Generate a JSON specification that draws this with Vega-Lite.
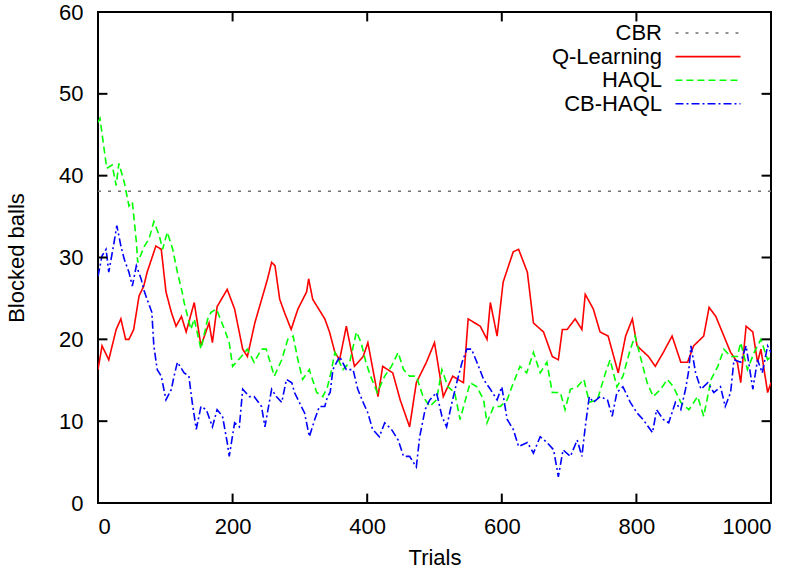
{
  "$schema": "https://vega.github.io/schema/vega-lite/v6.json",
  "width": 673,
  "height": 491,
  "autosize": {"type": "none"},
  "padding": {"left": 98, "top": 12, "right": 34, "bottom": 74},
  "background": "white",
  "config": {
    "view": {"stroke": "black", "strokeWidth": 2},
    "font": "Liberation Sans",
    "axis": {
      "grid": false,
      "domain": false,
      "ticks": false,
      "labelColor": "black",
      "titleColor": "black",
      "labelFont": "Liberation Sans",
      "titleFont": "Liberation Sans",
      "labelFontSize": 22,
      "titleFontSize": 22,
      "titleFontWeight": "normal"
    }
  },
  "datasets": {
    "xticks": [{"trial": 0}, {"trial": 200}, {"trial": 400}, {"trial": 600}, {"trial": 800}, {"trial": 1000}],
    "yticks": [{"value": 0}, {"value": 10}, {"value": 20}, {"value": 30}, {"value": 40}, {"value": 50}, {"value": 60}]
  },
  "data": {
    "values": [
      {"series": "CBR", "trial": 0, "value": 38.1},
      {"series": "CBR", "trial": 1000, "value": 38.1},
      {"series": "Q-Learning", "trial": 0, "value": 16.3},
      {"series": "Q-Learning", "trial": 6, "value": 19.2},
      {"series": "Q-Learning", "trial": 16, "value": 17.5},
      {"series": "Q-Learning", "trial": 27, "value": 21.2},
      {"series": "Q-Learning", "trial": 34, "value": 22.5},
      {"series": "Q-Learning", "trial": 41, "value": 20},
      {"series": "Q-Learning", "trial": 46, "value": 20},
      {"series": "Q-Learning", "trial": 53, "value": 21.2},
      {"series": "Q-Learning", "trial": 61, "value": 25.3},
      {"series": "Q-Learning", "trial": 68, "value": 26.5},
      {"series": "Q-Learning", "trial": 73, "value": 28.2},
      {"series": "Q-Learning", "trial": 86, "value": 31.4},
      {"series": "Q-Learning", "trial": 94, "value": 31},
      {"series": "Q-Learning", "trial": 101, "value": 25.8},
      {"series": "Q-Learning", "trial": 109, "value": 23.3},
      {"series": "Q-Learning", "trial": 116, "value": 21.6},
      {"series": "Q-Learning", "trial": 124, "value": 22.8},
      {"series": "Q-Learning", "trial": 131, "value": 20.9},
      {"series": "Q-Learning", "trial": 143, "value": 24.5},
      {"series": "Q-Learning", "trial": 153, "value": 19.2},
      {"series": "Q-Learning", "trial": 165, "value": 22},
      {"series": "Q-Learning", "trial": 170, "value": 19.6},
      {"series": "Q-Learning", "trial": 177, "value": 24},
      {"series": "Q-Learning", "trial": 192, "value": 26.1},
      {"series": "Q-Learning", "trial": 203, "value": 23.7},
      {"series": "Q-Learning", "trial": 215, "value": 18.8},
      {"series": "Q-Learning", "trial": 222, "value": 17.9},
      {"series": "Q-Learning", "trial": 233, "value": 22},
      {"series": "Q-Learning", "trial": 252, "value": 27.4},
      {"series": "Q-Learning", "trial": 258, "value": 29.4},
      {"series": "Q-Learning", "trial": 263, "value": 29},
      {"series": "Q-Learning", "trial": 270, "value": 24.9},
      {"series": "Q-Learning", "trial": 277, "value": 23.3},
      {"series": "Q-Learning", "trial": 287, "value": 21.2},
      {"series": "Q-Learning", "trial": 297, "value": 23.7},
      {"series": "Q-Learning", "trial": 310, "value": 25.8},
      {"series": "Q-Learning", "trial": 313, "value": 27.4},
      {"series": "Q-Learning", "trial": 319, "value": 24.9},
      {"series": "Q-Learning", "trial": 322, "value": 24.5},
      {"series": "Q-Learning", "trial": 337, "value": 22.5},
      {"series": "Q-Learning", "trial": 344, "value": 20.9},
      {"series": "Q-Learning", "trial": 352, "value": 18.4},
      {"series": "Q-Learning", "trial": 359, "value": 17.5},
      {"series": "Q-Learning", "trial": 369, "value": 21.6},
      {"series": "Q-Learning", "trial": 381, "value": 16.7},
      {"series": "Q-Learning", "trial": 394, "value": 17.9},
      {"series": "Q-Learning", "trial": 401, "value": 19.6},
      {"series": "Q-Learning", "trial": 416, "value": 13},
      {"series": "Q-Learning", "trial": 423, "value": 16.7},
      {"series": "Q-Learning", "trial": 438, "value": 15.9},
      {"series": "Q-Learning", "trial": 449, "value": 12.6},
      {"series": "Q-Learning", "trial": 463, "value": 9.3},
      {"series": "Q-Learning", "trial": 473, "value": 14.7},
      {"series": "Q-Learning", "trial": 488, "value": 17.2},
      {"series": "Q-Learning", "trial": 500, "value": 19.6},
      {"series": "Q-Learning", "trial": 513, "value": 13},
      {"series": "Q-Learning", "trial": 527, "value": 15.5},
      {"series": "Q-Learning", "trial": 543, "value": 14.7},
      {"series": "Q-Learning", "trial": 550, "value": 22.5},
      {"series": "Q-Learning", "trial": 568, "value": 21.6},
      {"series": "Q-Learning", "trial": 578, "value": 20},
      {"series": "Q-Learning", "trial": 583, "value": 24.5},
      {"series": "Q-Learning", "trial": 593, "value": 20.4},
      {"series": "Q-Learning", "trial": 602, "value": 27},
      {"series": "Q-Learning", "trial": 617, "value": 30.7},
      {"series": "Q-Learning", "trial": 625, "value": 31},
      {"series": "Q-Learning", "trial": 638, "value": 28.2},
      {"series": "Q-Learning", "trial": 647, "value": 22},
      {"series": "Q-Learning", "trial": 662, "value": 20.9},
      {"series": "Q-Learning", "trial": 675, "value": 17.9},
      {"series": "Q-Learning", "trial": 684, "value": 17.5},
      {"series": "Q-Learning", "trial": 690, "value": 21.2},
      {"series": "Q-Learning", "trial": 697, "value": 21.2},
      {"series": "Q-Learning", "trial": 709, "value": 22.5},
      {"series": "Q-Learning", "trial": 719, "value": 21.2},
      {"series": "Q-Learning", "trial": 724, "value": 25.5},
      {"series": "Q-Learning", "trial": 736, "value": 23.7},
      {"series": "Q-Learning", "trial": 746, "value": 20.9},
      {"series": "Q-Learning", "trial": 758, "value": 20.4},
      {"series": "Q-Learning", "trial": 773, "value": 15.9},
      {"series": "Q-Learning", "trial": 784, "value": 20.4},
      {"series": "Q-Learning", "trial": 794, "value": 22.5},
      {"series": "Q-Learning", "trial": 801, "value": 19.2},
      {"series": "Q-Learning", "trial": 818, "value": 17.9},
      {"series": "Q-Learning", "trial": 828, "value": 16.7},
      {"series": "Q-Learning", "trial": 840, "value": 18.4},
      {"series": "Q-Learning", "trial": 853, "value": 20.4},
      {"series": "Q-Learning", "trial": 866, "value": 17.2},
      {"series": "Q-Learning", "trial": 876, "value": 17.2},
      {"series": "Q-Learning", "trial": 885, "value": 19.2},
      {"series": "Q-Learning", "trial": 900, "value": 20.4},
      {"series": "Q-Learning", "trial": 908, "value": 23.9},
      {"series": "Q-Learning", "trial": 918, "value": 22.8},
      {"series": "Q-Learning", "trial": 930, "value": 20.4},
      {"series": "Q-Learning", "trial": 940, "value": 18.4},
      {"series": "Q-Learning", "trial": 950, "value": 17.2},
      {"series": "Q-Learning", "trial": 955, "value": 14.7},
      {"series": "Q-Learning", "trial": 963, "value": 21.6},
      {"series": "Q-Learning", "trial": 973, "value": 20.9},
      {"series": "Q-Learning", "trial": 980, "value": 17.2},
      {"series": "Q-Learning", "trial": 985, "value": 18.8},
      {"series": "Q-Learning", "trial": 995, "value": 13.5},
      {"series": "Q-Learning", "trial": 1000, "value": 14.7},
      {"series": "HAQL", "trial": 0, "value": 46.5},
      {"series": "HAQL", "trial": 3, "value": 47},
      {"series": "HAQL", "trial": 9, "value": 43.3},
      {"series": "HAQL", "trial": 13, "value": 40.9},
      {"series": "HAQL", "trial": 21, "value": 41.3},
      {"series": "HAQL", "trial": 27, "value": 38.8},
      {"series": "HAQL", "trial": 31, "value": 41.5},
      {"series": "HAQL", "trial": 39, "value": 39.2},
      {"series": "HAQL", "trial": 46, "value": 36.3},
      {"series": "HAQL", "trial": 51, "value": 36.8},
      {"series": "HAQL", "trial": 57, "value": 31.9},
      {"series": "HAQL", "trial": 59, "value": 29.4},
      {"series": "HAQL", "trial": 69, "value": 31.4},
      {"series": "HAQL", "trial": 76, "value": 32.3},
      {"series": "HAQL", "trial": 83, "value": 34.4},
      {"series": "HAQL", "trial": 91, "value": 32.7},
      {"series": "HAQL", "trial": 96, "value": 31},
      {"series": "HAQL", "trial": 103, "value": 33.1},
      {"series": "HAQL", "trial": 111, "value": 31},
      {"series": "HAQL", "trial": 118, "value": 28.2},
      {"series": "HAQL", "trial": 125, "value": 25.8},
      {"series": "HAQL", "trial": 128, "value": 24.5},
      {"series": "HAQL", "trial": 138, "value": 21.2},
      {"series": "HAQL", "trial": 143, "value": 22.5},
      {"series": "HAQL", "trial": 153, "value": 18.8},
      {"series": "HAQL", "trial": 163, "value": 22.5},
      {"series": "HAQL", "trial": 168, "value": 23.3},
      {"series": "HAQL", "trial": 176, "value": 23.7},
      {"series": "HAQL", "trial": 188, "value": 21.2},
      {"series": "HAQL", "trial": 195, "value": 19.6},
      {"series": "HAQL", "trial": 200, "value": 16.7},
      {"series": "HAQL", "trial": 213, "value": 17.9},
      {"series": "HAQL", "trial": 222, "value": 18.8},
      {"series": "HAQL", "trial": 232, "value": 17.2},
      {"series": "HAQL", "trial": 243, "value": 18.8},
      {"series": "HAQL", "trial": 250, "value": 18.8},
      {"series": "HAQL", "trial": 262, "value": 15.5},
      {"series": "HAQL", "trial": 273, "value": 17.5},
      {"series": "HAQL", "trial": 282, "value": 20},
      {"series": "HAQL", "trial": 290, "value": 20.4},
      {"series": "HAQL", "trial": 297, "value": 17.5},
      {"series": "HAQL", "trial": 304, "value": 15.1},
      {"series": "HAQL", "trial": 314, "value": 16.3},
      {"series": "HAQL", "trial": 325, "value": 13.5},
      {"series": "HAQL", "trial": 334, "value": 13},
      {"series": "HAQL", "trial": 341, "value": 14.2},
      {"series": "HAQL", "trial": 346, "value": 15.9},
      {"series": "HAQL", "trial": 352, "value": 18.4},
      {"series": "HAQL", "trial": 364, "value": 16.3},
      {"series": "HAQL", "trial": 374, "value": 17.2},
      {"series": "HAQL", "trial": 384, "value": 20.9},
      {"series": "HAQL", "trial": 391, "value": 19.6},
      {"series": "HAQL", "trial": 398, "value": 17.2},
      {"series": "HAQL", "trial": 405, "value": 15.5},
      {"series": "HAQL", "trial": 415, "value": 13.5},
      {"series": "HAQL", "trial": 426, "value": 15.5},
      {"series": "HAQL", "trial": 436, "value": 16.7},
      {"series": "HAQL", "trial": 446, "value": 18.4},
      {"series": "HAQL", "trial": 454, "value": 16.3},
      {"series": "HAQL", "trial": 463, "value": 15.5},
      {"series": "HAQL", "trial": 473, "value": 15.5},
      {"series": "HAQL", "trial": 483, "value": 13},
      {"series": "HAQL", "trial": 493, "value": 11.8},
      {"series": "HAQL", "trial": 503, "value": 12.6},
      {"series": "HAQL", "trial": 511, "value": 16.3},
      {"series": "HAQL", "trial": 520, "value": 14.2},
      {"series": "HAQL", "trial": 530, "value": 13.5},
      {"series": "HAQL", "trial": 538, "value": 10.2},
      {"series": "HAQL", "trial": 545, "value": 12.3},
      {"series": "HAQL", "trial": 553, "value": 14.7},
      {"series": "HAQL", "trial": 563, "value": 14.2},
      {"series": "HAQL", "trial": 573, "value": 12.6},
      {"series": "HAQL", "trial": 578, "value": 9.8},
      {"series": "HAQL", "trial": 588, "value": 11.8},
      {"series": "HAQL", "trial": 598, "value": 11.8},
      {"series": "HAQL", "trial": 608, "value": 12.6},
      {"series": "HAQL", "trial": 615, "value": 14.2},
      {"series": "HAQL", "trial": 627, "value": 16.7},
      {"series": "HAQL", "trial": 637, "value": 15.9},
      {"series": "HAQL", "trial": 647, "value": 18.4},
      {"series": "HAQL", "trial": 657, "value": 15.9},
      {"series": "HAQL", "trial": 667, "value": 17.2},
      {"series": "HAQL", "trial": 675, "value": 13.5},
      {"series": "HAQL", "trial": 687, "value": 13.5},
      {"series": "HAQL", "trial": 694, "value": 11.4},
      {"series": "HAQL", "trial": 702, "value": 13.9},
      {"series": "HAQL", "trial": 712, "value": 14.2},
      {"series": "HAQL", "trial": 722, "value": 15.1},
      {"series": "HAQL", "trial": 730, "value": 12.3},
      {"series": "HAQL", "trial": 742, "value": 12.6},
      {"series": "HAQL", "trial": 754, "value": 15.9},
      {"series": "HAQL", "trial": 761, "value": 17.5},
      {"series": "HAQL", "trial": 771, "value": 14.2},
      {"series": "HAQL", "trial": 780, "value": 15.5},
      {"series": "HAQL", "trial": 791, "value": 18.8},
      {"series": "HAQL", "trial": 798, "value": 20.4},
      {"series": "HAQL", "trial": 808, "value": 17.2},
      {"series": "HAQL", "trial": 816, "value": 14.7},
      {"series": "HAQL", "trial": 825, "value": 13},
      {"series": "HAQL", "trial": 836, "value": 13.9},
      {"series": "HAQL", "trial": 846, "value": 15.1},
      {"series": "HAQL", "trial": 855, "value": 14.2},
      {"series": "HAQL", "trial": 866, "value": 12.3},
      {"series": "HAQL", "trial": 878, "value": 11.4},
      {"series": "HAQL", "trial": 891, "value": 13},
      {"series": "HAQL", "trial": 900, "value": 10.6},
      {"series": "HAQL", "trial": 911, "value": 15.1},
      {"series": "HAQL", "trial": 921, "value": 16.7},
      {"series": "HAQL", "trial": 930, "value": 18.8},
      {"series": "HAQL", "trial": 940, "value": 17.9},
      {"series": "HAQL", "trial": 950, "value": 17.9},
      {"series": "HAQL", "trial": 955, "value": 19.6},
      {"series": "HAQL", "trial": 965, "value": 16.3},
      {"series": "HAQL", "trial": 975, "value": 18.4},
      {"series": "HAQL", "trial": 985, "value": 20},
      {"series": "HAQL", "trial": 995, "value": 17.5},
      {"series": "HAQL", "trial": 1000, "value": 17.9},
      {"series": "CB-HAQL", "trial": 0, "value": 27.7},
      {"series": "CB-HAQL", "trial": 6, "value": 30.2},
      {"series": "CB-HAQL", "trial": 12, "value": 31},
      {"series": "CB-HAQL", "trial": 16, "value": 28.2},
      {"series": "CB-HAQL", "trial": 24, "value": 31.9},
      {"series": "CB-HAQL", "trial": 28, "value": 33.9},
      {"series": "CB-HAQL", "trial": 34, "value": 31.4},
      {"series": "CB-HAQL", "trial": 39, "value": 29.8},
      {"series": "CB-HAQL", "trial": 46, "value": 28.2},
      {"series": "CB-HAQL", "trial": 51, "value": 26.5},
      {"series": "CB-HAQL", "trial": 57, "value": 29},
      {"series": "CB-HAQL", "trial": 64, "value": 27.4},
      {"series": "CB-HAQL", "trial": 69, "value": 25.8},
      {"series": "CB-HAQL", "trial": 73, "value": 24.9},
      {"series": "CB-HAQL", "trial": 80, "value": 23.3},
      {"series": "CB-HAQL", "trial": 83, "value": 19.2},
      {"series": "CB-HAQL", "trial": 88, "value": 16.3},
      {"series": "CB-HAQL", "trial": 94, "value": 15.5},
      {"series": "CB-HAQL", "trial": 101, "value": 12.6},
      {"series": "CB-HAQL", "trial": 109, "value": 13.9},
      {"series": "CB-HAQL", "trial": 113, "value": 15.5},
      {"series": "CB-HAQL", "trial": 118, "value": 17.2},
      {"series": "CB-HAQL", "trial": 128, "value": 15.9},
      {"series": "CB-HAQL", "trial": 135, "value": 15.5},
      {"series": "CB-HAQL", "trial": 140, "value": 12.3},
      {"series": "CB-HAQL", "trial": 146, "value": 9},
      {"series": "CB-HAQL", "trial": 153, "value": 11.8},
      {"series": "CB-HAQL", "trial": 161, "value": 11.4},
      {"series": "CB-HAQL", "trial": 170, "value": 9.3},
      {"series": "CB-HAQL", "trial": 177, "value": 11.4},
      {"series": "CB-HAQL", "trial": 185, "value": 10.6},
      {"series": "CB-HAQL", "trial": 192, "value": 7.4},
      {"series": "CB-HAQL", "trial": 195, "value": 5.7},
      {"series": "CB-HAQL", "trial": 203, "value": 9.8},
      {"series": "CB-HAQL", "trial": 210, "value": 9.3},
      {"series": "CB-HAQL", "trial": 215, "value": 13.9},
      {"series": "CB-HAQL", "trial": 225, "value": 13},
      {"series": "CB-HAQL", "trial": 232, "value": 13},
      {"series": "CB-HAQL", "trial": 243, "value": 11.8},
      {"series": "CB-HAQL", "trial": 248, "value": 9.3},
      {"series": "CB-HAQL", "trial": 258, "value": 13.9},
      {"series": "CB-HAQL", "trial": 265, "value": 13},
      {"series": "CB-HAQL", "trial": 273, "value": 12.3},
      {"series": "CB-HAQL", "trial": 280, "value": 15.1},
      {"series": "CB-HAQL", "trial": 288, "value": 14.7},
      {"series": "CB-HAQL", "trial": 292, "value": 13.5},
      {"series": "CB-HAQL", "trial": 302, "value": 11.8},
      {"series": "CB-HAQL", "trial": 307, "value": 11},
      {"series": "CB-HAQL", "trial": 314, "value": 8.1},
      {"series": "CB-HAQL", "trial": 322, "value": 10.2},
      {"series": "CB-HAQL", "trial": 329, "value": 11.8},
      {"series": "CB-HAQL", "trial": 337, "value": 11.8},
      {"series": "CB-HAQL", "trial": 341, "value": 13},
      {"series": "CB-HAQL", "trial": 345, "value": 13.5},
      {"series": "CB-HAQL", "trial": 349, "value": 16.3},
      {"series": "CB-HAQL", "trial": 359, "value": 17.9},
      {"series": "CB-HAQL", "trial": 369, "value": 16.3},
      {"series": "CB-HAQL", "trial": 379, "value": 16.3},
      {"series": "CB-HAQL", "trial": 386, "value": 13.9},
      {"series": "CB-HAQL", "trial": 394, "value": 12.3},
      {"series": "CB-HAQL", "trial": 401, "value": 11},
      {"series": "CB-HAQL", "trial": 408, "value": 9},
      {"series": "CB-HAQL", "trial": 418, "value": 8.1},
      {"series": "CB-HAQL", "trial": 426, "value": 9.8},
      {"series": "CB-HAQL", "trial": 436, "value": 9},
      {"series": "CB-HAQL", "trial": 446, "value": 7.7},
      {"series": "CB-HAQL", "trial": 454, "value": 5.7},
      {"series": "CB-HAQL", "trial": 463, "value": 5.7},
      {"series": "CB-HAQL", "trial": 473, "value": 4.4},
      {"series": "CB-HAQL", "trial": 478, "value": 8.1},
      {"series": "CB-HAQL", "trial": 486, "value": 11.4},
      {"series": "CB-HAQL", "trial": 493, "value": 12.6},
      {"series": "CB-HAQL", "trial": 503, "value": 13.5},
      {"series": "CB-HAQL", "trial": 511, "value": 10.6},
      {"series": "CB-HAQL", "trial": 518, "value": 9.3},
      {"series": "CB-HAQL", "trial": 526, "value": 12.3},
      {"series": "CB-HAQL", "trial": 533, "value": 14.7},
      {"series": "CB-HAQL", "trial": 541, "value": 17.2},
      {"series": "CB-HAQL", "trial": 548, "value": 18.8},
      {"series": "CB-HAQL", "trial": 555, "value": 18.8},
      {"series": "CB-HAQL", "trial": 563, "value": 17.2},
      {"series": "CB-HAQL", "trial": 573, "value": 15.1},
      {"series": "CB-HAQL", "trial": 583, "value": 13.9},
      {"series": "CB-HAQL", "trial": 593, "value": 12.6},
      {"series": "CB-HAQL", "trial": 600, "value": 14.2},
      {"series": "CB-HAQL", "trial": 608, "value": 10.2},
      {"series": "CB-HAQL", "trial": 617, "value": 9},
      {"series": "CB-HAQL", "trial": 625, "value": 6.9},
      {"series": "CB-HAQL", "trial": 638, "value": 7.4},
      {"series": "CB-HAQL", "trial": 647, "value": 6.1},
      {"series": "CB-HAQL", "trial": 657, "value": 8.1},
      {"series": "CB-HAQL", "trial": 667, "value": 7.4},
      {"series": "CB-HAQL", "trial": 677, "value": 6.5},
      {"series": "CB-HAQL", "trial": 684, "value": 3.2},
      {"series": "CB-HAQL", "trial": 691, "value": 6.5},
      {"series": "CB-HAQL", "trial": 702, "value": 5.7},
      {"series": "CB-HAQL", "trial": 712, "value": 7.7},
      {"series": "CB-HAQL", "trial": 719, "value": 5.7},
      {"series": "CB-HAQL", "trial": 724, "value": 9.3},
      {"series": "CB-HAQL", "trial": 730, "value": 13},
      {"series": "CB-HAQL", "trial": 736, "value": 12.3},
      {"series": "CB-HAQL", "trial": 746, "value": 13},
      {"series": "CB-HAQL", "trial": 757, "value": 12.6},
      {"series": "CB-HAQL", "trial": 764, "value": 10.6},
      {"series": "CB-HAQL", "trial": 771, "value": 13.5},
      {"series": "CB-HAQL", "trial": 780, "value": 14.2},
      {"series": "CB-HAQL", "trial": 791, "value": 12.3},
      {"series": "CB-HAQL", "trial": 801, "value": 11},
      {"series": "CB-HAQL", "trial": 810, "value": 10.2},
      {"series": "CB-HAQL", "trial": 824, "value": 8.6},
      {"series": "CB-HAQL", "trial": 830, "value": 11.4},
      {"series": "CB-HAQL", "trial": 840, "value": 10.2},
      {"series": "CB-HAQL", "trial": 848, "value": 9.8},
      {"series": "CB-HAQL", "trial": 858, "value": 12.3},
      {"series": "CB-HAQL", "trial": 866, "value": 11.4},
      {"series": "CB-HAQL", "trial": 873, "value": 13.9},
      {"series": "CB-HAQL", "trial": 878, "value": 16.3},
      {"series": "CB-HAQL", "trial": 881, "value": 19.2},
      {"series": "CB-HAQL", "trial": 888, "value": 15.9},
      {"series": "CB-HAQL", "trial": 896, "value": 13.9},
      {"series": "CB-HAQL", "trial": 906, "value": 14.7},
      {"series": "CB-HAQL", "trial": 915, "value": 13.5},
      {"series": "CB-HAQL", "trial": 925, "value": 14.2},
      {"series": "CB-HAQL", "trial": 932, "value": 11.8},
      {"series": "CB-HAQL", "trial": 940, "value": 13.5},
      {"series": "CB-HAQL", "trial": 945, "value": 17.5},
      {"series": "CB-HAQL", "trial": 955, "value": 17.2},
      {"series": "CB-HAQL", "trial": 963, "value": 19.2},
      {"series": "CB-HAQL", "trial": 973, "value": 13.9},
      {"series": "CB-HAQL", "trial": 980, "value": 17.5},
      {"series": "CB-HAQL", "trial": 987, "value": 15.9},
      {"series": "CB-HAQL", "trial": 995, "value": 19.2},
      {"series": "CB-HAQL", "trial": 1000, "value": 18.4}
    ]
  },
  "layer": [
    {
      "mark": {"type": "line", "strokeWidth": 1.6, "clip": true},
      "encoding": {
        "x": {
          "field": "trial", "type": "quantitative",
          "scale": {"domain": [0, 1000], "nice": false, "zero": false},
          "axis": {"title": "Trials", "values": [0, 200, 400, 600, 800, 1000], "format": "d", "labelPadding": 13, "titlePadding": 10}
        },
        "y": {
          "field": "value", "type": "quantitative",
          "scale": {"domain": [0, 60], "nice": false, "zero": false},
          "axis": {"title": "Blocked balls", "values": [0, 10, 20, 30, 40, 50, 60], "labelPadding": 15, "titlePadding": 30}
        },
        "color": {
          "field": "series", "type": "nominal",
          "scale": {"domain": ["CBR", "Q-Learning", "HAQL", "CB-HAQL"], "range": ["#707070", "#ff0000", "#00ff00", "#0000ff"]},
          "legend": {
            "title": null, "orient": "none", "legendX": 598, "legendY": 9,
            "symbolType": "M-3,0H3", "symbolSize": 470, "symbolStrokeWidth": 1.6,
            "labelAlign": "right", "labelOffset": -58, "labelFontSize": 22,
            "labelFont": "Liberation Sans", "labelColor": "black", "labelLimit": 300,
            "rowPadding": 0.6, "padding": 0
          }
        },
        "strokeDash": {
          "field": "series", "type": "nominal",
          "scale": {"domain": ["CBR", "Q-Learning", "HAQL", "CB-HAQL"], "range": [[3, 7], [1, 0], [7, 4], [8, 3, 2, 3]]},
          "legend": {
            "title": null, "orient": "none", "legendX": 598, "legendY": 9,
            "symbolType": "M-3,0H3", "symbolSize": 470, "symbolStrokeWidth": 1.6,
            "labelAlign": "right", "labelOffset": -58, "labelFontSize": 22,
            "labelFont": "Liberation Sans", "labelColor": "black", "labelLimit": 300,
            "rowPadding": 0.6, "padding": 0
          }
        }
      }
    },
    {
      "data": {"name": "xticks"},
      "mark": {"type": "rule", "color": "#000000", "strokeWidth": 2, "opacity": 1},
      "encoding": {
        "x": {"field": "trial", "type": "quantitative"},
        "y": {"datum": 0},
        "y2": {"datum": 1.15}
      }
    },
    {
      "data": {"name": "xticks"},
      "mark": {"type": "rule", "color": "#000000", "strokeWidth": 2, "opacity": 1},
      "encoding": {
        "x": {"field": "trial", "type": "quantitative"},
        "y": {"datum": 60},
        "y2": {"datum": 58.85}
      }
    },
    {
      "data": {"name": "yticks"},
      "mark": {"type": "rule", "color": "#000000", "strokeWidth": 2, "opacity": 1},
      "encoding": {
        "y": {"field": "value", "type": "quantitative"},
        "x": {"datum": 0},
        "x2": {"datum": 14}
      }
    },
    {
      "data": {"name": "yticks"},
      "mark": {"type": "rule", "color": "#000000", "strokeWidth": 2, "opacity": 1},
      "encoding": {
        "y": {"field": "value", "type": "quantitative"},
        "x": {"datum": 1000},
        "x2": {"datum": 986}
      }
    }
  ]
}
